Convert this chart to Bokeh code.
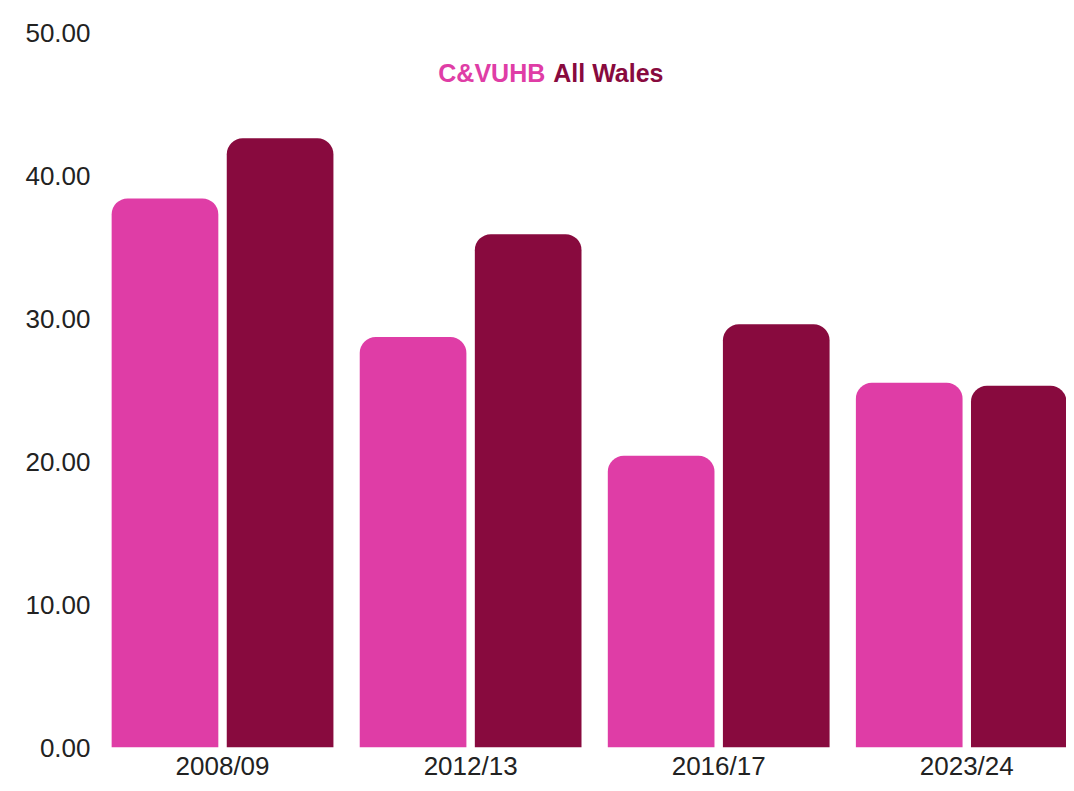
import numpy as np
from bokeh.plotting import figure
from bokeh.models import Range1d, FixedTicker, Label, ColumnDataSource
from bokeh.embed import file_html
from bokeh.resources import INLINE

years = ["2008/09", "2012/13", "2016/17", "2023/24"]
cvuhb = [38.4, 28.7, 20.4, 25.5]
all_wales = [42.6, 35.9, 29.6, 25.3]
y_ticks = [0, 10, 20, 30, 40, 50]
series_names = ["C&VUHB", "All Wales"]
colors = ["#DF3DA6", "#880A3E"]

FONT = "Liberation Sans"

centers = np.arange(len(years)) + 0.5

p = figure(width=1066, height=783, output_backend="svg", toolbar_location=None,
           x_range=Range1d(0, 3.902), y_range=Range1d(0, 50),
           min_border_left=98, min_border_right=0, min_border_top=32,
           min_border_bottom=35)

src = ColumnDataSource(dict(x1=centers - 0.232, x2=centers + 0.232,
                            a=cvuhb, b=all_wales))
p.vbar(x="x1", top="a", bottom=0, width=0.43, source=src, fill_color=colors[0],
       line_color=None, border_radius=[16, 16, 0, 0])
p.vbar(x="x2", top="b", bottom=0, width=0.43, source=src, fill_color=colors[1],
       line_color=None, border_radius=[16, 16, 0, 0])

p.xaxis.ticker = FixedTicker(ticks=list(centers))
p.xaxis.major_label_overrides = {float(c): y for c, y in zip(centers, years)}
p.yaxis.ticker = FixedTicker(ticks=y_ticks)
p.yaxis.major_label_overrides = {t: f"{t:.2f}" for t in y_ticks}

for ax in (p.xaxis[0], p.yaxis[0]):
    ax.axis_line_color = None
    ax.major_tick_line_color = None
    ax.minor_tick_line_color = None
    ax.major_tick_out = 0
    ax.major_tick_in = 0
    ax.minor_tick_out = 0
    ax.minor_tick_in = 0
    ax.major_label_text_font = FONT
    ax.major_label_text_font_size = "26px"
    ax.major_label_text_color = "#222222"
p.yaxis.major_label_standoff = 8
p.xaxis.major_label_standoff = 3

p.xgrid.grid_line_color = None
p.ygrid.grid_line_color = None
p.outline_line_color = None

p.add_layout(Label(x=1.817, y=47.2, text=series_names[0], text_align="right",
                   text_baseline="middle", text_font=FONT, text_font_size="25px",
                   text_font_style="bold", text_color=colors[0], x_offset=-4))
p.add_layout(Label(x=1.817, y=47.2, text=series_names[1], text_align="left",
                   text_baseline="middle", text_font=FONT, text_font_size="25px",
                   text_font_style="bold", text_color=colors[1], x_offset=4))

open("out.html", "w").write(file_html(p, INLINE))
